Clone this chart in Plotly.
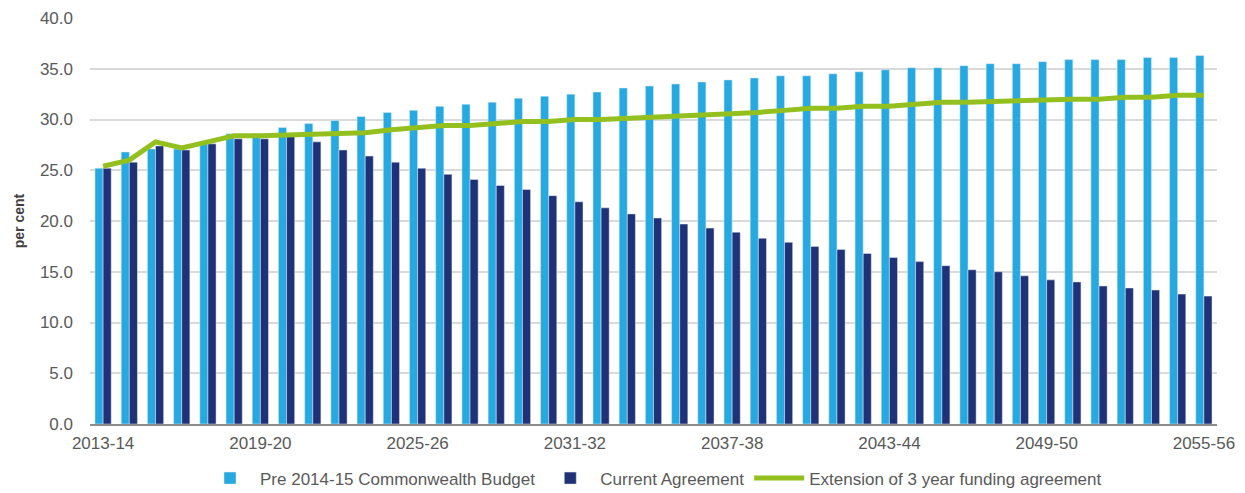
import plotly.graph_objects as go

# financial years 2013-14 .. 2055-56
years = ['2013-14', '2014-15', '2015-16', '2016-17', '2017-18', '2018-19', '2019-20', '2020-21',
         '2021-22', '2022-23', '2023-24', '2024-25', '2025-26', '2026-27', '2027-28', '2028-29',
         '2029-30', '2030-31', '2031-32', '2032-33', '2033-34', '2034-35', '2035-36', '2036-37',
         '2037-38', '2038-39', '2039-40', '2040-41', '2041-42', '2042-43', '2043-44', '2044-45',
         '2045-46', '2046-47', '2047-48', '2048-49', '2049-50', '2050-51', '2051-52', '2052-53',
         '2053-54', '2054-55', '2055-56']

pre_budget = [25.2, 26.8, 27.1, 27.1, 27.6, 28.6, 28.6, 29.2, 29.6, 29.9, 30.3, 30.7, 30.9, 31.3,
              31.5, 31.7, 32.1, 32.3, 32.5, 32.7, 33.1, 33.3, 33.5, 33.7, 33.9, 34.1, 34.3, 34.3,
              34.5, 34.7, 34.9, 35.1, 35.1, 35.3, 35.5, 35.5, 35.7, 35.9, 35.9, 35.9, 36.1, 36.1, 36.3]

current = [25.2, 25.8, 27.4, 27.0, 27.6, 28.1, 28.1, 28.4, 27.8, 27.0, 26.4, 25.8, 25.2, 24.6,
           24.1, 23.5, 23.1, 22.5, 21.9, 21.3, 20.7, 20.3, 19.7, 19.3, 18.9, 18.3, 17.9, 17.5,
           17.2, 16.8, 16.4, 16.0, 15.6, 15.2, 15.0, 14.6, 14.2, 14.0, 13.6, 13.4, 13.2, 12.8, 12.6]

extension = [25.4, 26.0, 27.8, 27.2, 27.8, 28.4, 28.4, 28.5, 28.5, 28.7, 28.7, 29.0, 29.2, 29.4,
             29.4, 29.6, 29.8, 29.8, 30.0, 30.0, 30.1, 30.3, 30.3, 30.4, 30.6, 30.7, 30.9, 31.1,
             31.1, 31.3, 31.3, 31.5, 31.7, 31.7, 31.8, 31.8, 32.0, 32.0, 32.0, 32.2, 32.2, 32.4, 32.4]

x_ticks = years[::6]

font_family = "Liberation Sans, Arial, sans-serif"
grey = '#595959'

fig = go.Figure()
fig.add_trace(go.Bar(x=years, y=pre_budget, name='Pre 2014-15 Commonwealth Budget',
                     marker_color='#25A9E0'))
fig.add_trace(go.Bar(x=years, y=current, name='Current Agreement',
                     marker_color='#1F3278'))
fig.add_trace(go.Scatter(x=years, y=extension, name='Extension of 3 year funding agreement',
                         mode='lines', line=dict(color='#93C01F', width=5)))

# page body adds an 8px offset, so the figure is 8px smaller than the window
fig.update_layout(
    width=1237, height=485,
    margin=dict(l=82, r=28, t=10, b=69, autoexpand=False),
    plot_bgcolor='white', paper_bgcolor='white',
    barmode='group', bargap=0.38, bargroupgap=0,
    font=dict(family=font_family, size=17, color=grey),
    legend=dict(orientation='h', x=0.5, xanchor='center', y=-0.09, yanchor='top',
                font=dict(size=17, color=grey), itemwidth=50, traceorder='normal'),
    showlegend=True,
)
fig.update_xaxes(tickmode='array', tickvals=x_ticks, ticktext=x_ticks,
                 showline=True, linecolor='#8C8C8C', linewidth=1.5,
                 ticks='', showgrid=False, ticklabelstandoff=3,
                 tickfont=dict(size=17, color=grey))
fig.update_yaxes(range=[0, 40], dtick=5, tickformat='.1f',
                 showgrid=True, gridcolor='#D9D9D9', gridwidth=1.5,
                 zeroline=False, showline=False, ticks='',
                 ticklabelstandoff=16, tickfont=dict(size=17, color=grey),
                 title=dict(text='<b>per cent</b>', font=dict(size=14, color='#404040'), standoff=12))

fig.write_html("out.html")
